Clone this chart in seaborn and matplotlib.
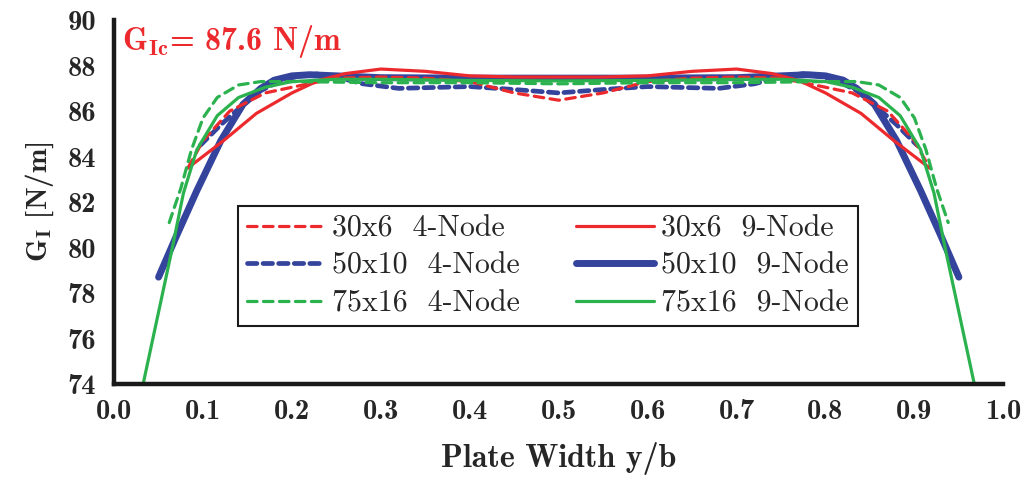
import matplotlib
matplotlib.use("Agg")
import matplotlib.pyplot as plt
import seaborn as sns
import pandas as pd

# ---- data ----
x_r4 = [0.083, 0.10, 0.13, 0.17, 0.20, 0.25, 0.30, 0.35, 0.40, 0.45, 0.50, 0.55, 0.60, 0.65, 0.70, 0.75, 0.80, 0.83, 0.87, 0.90, 0.917]
y_r4 = [83.5, 84.7, 86.0, 86.8, 87.05, 87.45, 87.5, 87.45, 87.3, 86.8, 86.48, 86.8, 87.3, 87.45, 87.5, 87.45, 87.05, 86.8, 86.0, 84.7, 83.5]

x_r9 = [0.083, 0.123, 0.16, 0.20, 0.23, 0.26, 0.30, 0.35, 0.40, 0.45, 0.50, 0.55, 0.60, 0.65, 0.70, 0.74, 0.77, 0.80, 0.84, 0.877, 0.917]
y_r9 = [83.5, 84.7, 85.9, 86.8, 87.35, 87.65, 87.85, 87.75, 87.55, 87.5, 87.5, 87.5, 87.55, 87.75, 87.85, 87.65, 87.35, 86.8, 85.9, 84.7, 83.5]

x_b4 = [0.097, 0.12, 0.14, 0.165, 0.19, 0.225, 0.25, 0.28, 0.32, 0.40, 0.45, 0.50, 0.55, 0.60, 0.68, 0.72, 0.75, 0.775, 0.81, 0.835, 0.86, 0.88, 0.903]
y_b4 = [84.5, 85.4, 86.1, 86.9, 87.4, 87.65, 87.5, 87.2, 87.0, 87.08, 86.95, 86.8, 86.95, 87.08, 87.0, 87.2, 87.5, 87.65, 87.4, 86.9, 86.1, 85.4, 84.5]

x_b9 = [0.05, 0.07, 0.093, 0.12, 0.145, 0.165, 0.18, 0.20, 0.22, 0.25, 0.30, 0.40, 0.50, 0.60, 0.70, 0.75, 0.78, 0.80, 0.82, 0.835, 0.855, 0.88, 0.907, 0.93, 0.95]
y_b9 = [78.7, 80.5, 82.5, 84.7, 86.3, 87.0, 87.36, 87.55, 87.6, 87.55, 87.47, 87.45, 87.45, 87.45, 87.47, 87.55, 87.6, 87.55, 87.36, 87.0, 86.3, 84.7, 82.5, 80.5, 78.7]

x_g4 = [0.062, 0.075, 0.087, 0.10, 0.116, 0.14, 0.165, 0.20, 0.30, 0.40, 0.50, 0.60, 0.70, 0.80, 0.835, 0.86, 0.884, 0.90, 0.913, 0.925, 0.938]
y_g4 = [81.1, 82.6, 84.3, 85.7, 86.6, 87.15, 87.3, 87.3, 87.25, 87.25, 87.2, 87.25, 87.25, 87.3, 87.3, 87.15, 86.6, 85.7, 84.3, 82.6, 81.1]

x_g9 = [0.031, 0.048, 0.065, 0.078, 0.093, 0.116, 0.14, 0.17, 0.20, 0.25, 0.30, 0.40, 0.50, 0.60, 0.70, 0.75, 0.80, 0.83, 0.86, 0.884, 0.907, 0.922, 0.935, 0.952, 0.969]
y_g9 = [73.7, 76.8, 79.9, 82.4, 84.3, 85.8, 86.6, 87.05, 87.3, 87.4, 87.4, 87.35, 87.33, 87.35, 87.4, 87.4, 87.3, 87.05, 86.6, 85.8, 84.3, 82.4, 79.9, 76.8, 73.7]

labels = ["30x6  4-Node", "50x10  4-Node", "75x16  4-Node",
          "30x6  9-Node", "50x10  9-Node", "75x16  9-Node"]
x_ticks = [0.0, 0.1, 0.2, 0.3, 0.4, 0.5, 0.6, 0.7, 0.8, 0.9, 1.0]
y_ticks = [74, 76, 78, 80, 82, 84, 86, 88, 90]
annotation = r"G$_{\mathbf{Ic}}$= 87.6 N/m"

RED = "#ec2a2d"
BLUE = "#34449c"
GREEN = "#2bb24f"

sns.set_style("white")
plt.rcParams["font.family"] = ["cmb10", "DejaVu Serif"]
plt.rcParams["mathtext.fontset"] = "cm"
plt.rcParams["axes.unicode_minus"] = False

fig = plt.figure(figsize=(10.28, 4.8), dpi=100)
ax = fig.add_axes([0.111, 0.2, 0.865, 0.758])

series = [
    (x_b9, y_b9, BLUE, "-", 5.0, labels[4], (None)),
    (x_b4, y_b4, BLUE, "--", 3.4, labels[1], (2.0, 1.3)),
    (x_r4, y_r4, RED, "--", 2.3, labels[0], (3.0, 2.0)),
    (x_r9, y_r9, RED, "-", 2.3, labels[3], None),
    (x_g4, y_g4, GREEN, "--", 2.3, labels[2], (3.0, 2.0)),
    (x_g9, y_g9, GREEN, "-", 2.3, labels[5], None),
]
handles = {}
for xs, ys, c, ls, lw, lab, dash in series:
    df = pd.DataFrame({"x": xs, "y": ys})
    sns.lineplot(data=df, x="x", y="y", ax=ax, color=c, linewidth=lw,
                 estimator=None, sort=False, label=lab)
    line = ax.get_lines()[-1]
    line.set_solid_capstyle("round")
    line.set_solid_joinstyle("round")
    if dash is not None:
        line.set_dashes(dash)
        line.set_dash_capstyle("round")
    handles[lab] = line

ax.set_xlim(0.0, 1.0)
ax.set_ylim(74, 90)
ax.set_xticks(x_ticks)
ax.set_yticks(y_ticks)
ax.set_xticklabels([f"{v:.1f}" for v in x_ticks])
ax.set_yticklabels([str(v) for v in y_ticks])

for s in ["top", "right"]:
    ax.spines[s].set_visible(False)
for s in ["left", "bottom"]:
    ax.spines[s].set_linewidth(3.2)
    ax.spines[s].set_color("#1a1a1a")
    ax.spines[s].set_zorder(5)

ax.tick_params(axis="both", direction="inout", length=12, width=2.6,
               color="#1a1a1a", labelsize=20.5, pad=5)
ax.tick_params(axis="y", pad=7)

ax.set_xlabel("Plate Width y/b", fontsize=23, labelpad=12)
ax.set_ylabel(r"G$_{\mathbf{I}}$ [N/m]", fontsize=21, labelpad=8)

ax.text(0.009, 89.05, annotation, color=RED, fontsize=23, ha="left",
        va="center")

ax.legend([handles[l] for l in labels], labels, ncol=2, loc="lower left",
          bbox_to_anchor=(0.139, 0.159), borderaxespad=0.0,
          frameon=True, fancybox=False,
          edgecolor="#1a1a1a", framealpha=1, borderpad=0.3,
          handlelength=2.6, handletextpad=0.25, columnspacing=1.9,
          labelspacing=0.33,
          prop={"family": "cmr10", "size": 21.5})
ax.get_legend().get_frame().set_linewidth(1.5)

fig.savefig("out.png", dpi=100)
